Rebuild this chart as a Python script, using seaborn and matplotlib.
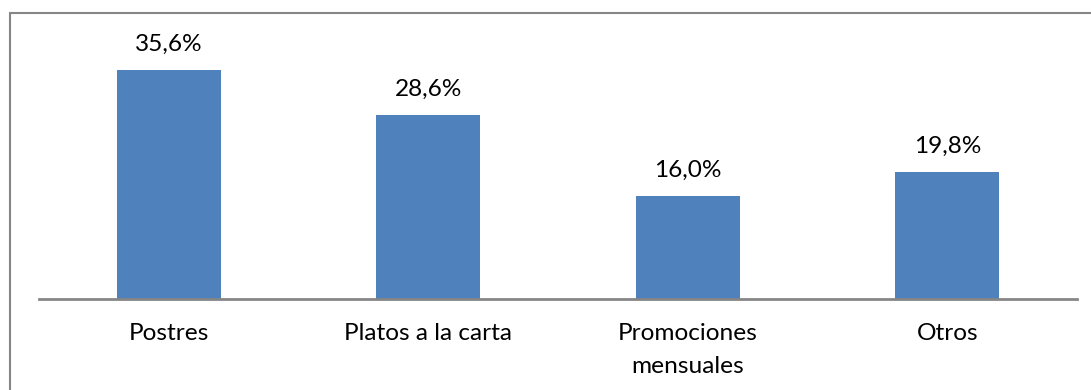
import matplotlib
matplotlib.use("Agg")
import matplotlib.pyplot as plt
import seaborn as sns
import pandas as pd

categories = ["Postres", "Platos a la carta", "Promociones\nmensuales", "Otros"]
values = [35.6, 28.6, 16.0, 19.8]
value_labels = ["35,6%", "28,6%", "16,0%", "19,8%"]

sns.set_style("white")
plt.rcParams["font.family"] = ["Lato", "DejaVu Sans"]

df = pd.DataFrame({"categoria": categories, "valor": values})

fig = plt.figure(figsize=(10.91, 3.90), dpi=100)
ax = fig.add_axes([39 / 1091, 91 / 390, 1038 / 1091, 279 / 390])

sns.barplot(data=df, x="categoria", y="valor", color="#4F81BD", width=0.4,
            saturation=1, ax=ax, edgecolor="none")

ax.set_ylim(0, 279 / 6.43)
ax.set_xlim(-0.5, len(categories) - 0.5)
ax.set_xlabel("")
ax.set_ylabel("")
ax.set_yticks([])
ax.tick_params(axis="x", length=0, pad=17, labelsize=17.6, labelcolor="#000000")
for lbl in ax.get_xticklabels():
    lbl.set_linespacing(1.7)

for side in ["top", "left", "right"]:
    ax.spines[side].set_visible(False)
ax.spines["bottom"].set_color("#868686")
ax.spines["bottom"].set_linewidth(2)

for i, (v, t) in enumerate(zip(values, value_labels)):
    ax.annotate(t, (i, v), xytext=(0, 11), textcoords="offset points",
                ha="center", va="bottom", fontsize=17.6, color="#000000")

# Chart frame (top and left edges visible)
fig.add_artist(plt.Line2D([9.5 / 1091, 1.0], [1 - 12.5 / 390] * 2,
                          transform=fig.transFigure, color="#868686", lw=1.5))
fig.add_artist(plt.Line2D([9.5 / 1091] * 2, [0, 1 - 12.5 / 390],
                          transform=fig.transFigure, color="#868686", lw=1.5))

fig.savefig("out.png", dpi=100, facecolor="white")
